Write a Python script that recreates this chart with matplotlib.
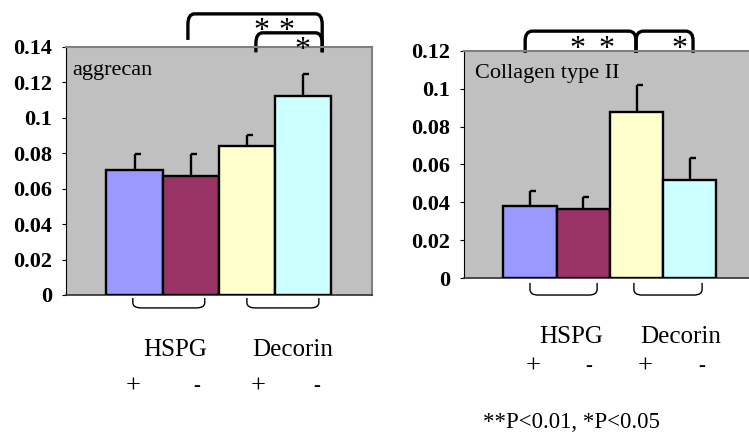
import matplotlib
matplotlib.use("Agg")
import matplotlib.pyplot as plt
from matplotlib.path import Path
from matplotlib.patches import PathPatch
import matplotlib.markers as mmarkers

plt.rcParams['font.family'] = ['Liberation Serif', 'DejaVu Serif']

# ---- data ----
groups = ["HSPG+", "HSPG-", "Decorin+", "Decorin-"]
bar_colors = ["#9999FF", "#993366", "#FFFFCC", "#CCFFFF"]
aggrecan_mean = [0.0706, 0.0672, 0.0841, 0.1124]
aggrecan_err = [0.0090, 0.0124, 0.0062, 0.0124]
collagen_mean = [0.0380, 0.0365, 0.0877, 0.0518]
collagen_err = [0.0080, 0.0065, 0.0143, 0.0116]
agg_ticks = [0, 0.02, 0.04, 0.06, 0.08, 0.1, 0.12, 0.14]
agg_ticklabels = ["0", "0.02", "0.04", "0.06", "0.08", "0.1", "0.12", "0.14"]
col_ticks = [0, 0.02, 0.04, 0.06, 0.08, 0.1, 0.12]
col_ticklabels = ["0", "0.02", "0.04", "0.06", "0.08", "0.1", "0.12"]
signs = ["+", "-", "+", "-"]

W, H = 749, 436
fig = plt.figure(figsize=(W / 100, H / 100), dpi=100)


def axes_px(x0, y0, x1, y1):
    return fig.add_axes([x0 / W, 1 - y1 / H, (x1 - x0) / W, (y1 - y0) / H])


def bracket(ax, x0, x1, ytop, yl, yr, lw, rx, ry):
    s = 1 if yl < ytop else -1
    verts = [(x0, yl), (x0, ytop - s * ry), (x0, ytop), (x0 + rx, ytop),
             (x1 - rx, ytop), (x1, ytop), (x1, ytop - s * ry), (x1, yr)]
    codes = [Path.MOVETO, Path.LINETO, Path.CURVE3, Path.CURVE3,
             Path.LINETO, Path.CURVE3, Path.CURVE3, Path.LINETO]
    ax.add_patch(PathPatch(Path(verts, codes), fill=False, lw=lw,
                           edgecolor='black', clip_on=False, capstyle='butt'))


def star(ax, x, y):
    ax.text(x, y, "*", fontsize=23, ha='center', va='baseline', clip_on=False)


def style_axes(ax, ticks, ticklabels, ymax, xl, xr, show_right=True):
    ax.set_facecolor('#C0C0C0')
    ax.set_ylim(0, ymax)
    ax.set_xlim(xl, xr)
    ax.set_yticks(ticks)
    ax.set_yticklabels(ticklabels, fontsize=16, fontweight='bold')
    ax.set_xticks([])
    ax.tick_params(axis='y', direction='out', length=3, width=0.8, pad=7)
    ax.spines['left'].set_color('black')
    ax.spines['left'].set_linewidth(0.8)
    ax.spines['bottom'].set_color('#303030')
    ax.spines['bottom'].set_linewidth(1.2)
    ax.spines['top'].set_color('#808080')
    ax.spines['top'].set_linewidth(1.5)
    ax.spines['right'].set_color('#808080')
    ax.spines['right'].set_linewidth(1.5)
    ax.spines['right'].set_visible(show_right)


def draw_bars(ax, means, errs):
    x = list(range(len(means)))
    ax.bar(x, means, width=1.0, color=bar_colors, edgecolor='black',
           linewidth=1.7, zorder=3)
    tops = [m + e for m, e in zip(means, errs)]
    ax.vlines(x, means, tops, color='black', lw=1.7, zorder=2)
    ax.plot(x, tops, linestyle='none', marker=mmarkers.TICKRIGHT,
            markersize=4, markeredgewidth=1.7, color='black', zorder=2)


# ---- left panel: aggrecan ----
ax1 = axes_px(66, 47, 372, 295)
style_axes(ax1, agg_ticks, agg_ticklabels, 0.14, -1.219, 4.226)
draw_bars(ax1, aggrecan_mean, aggrecan_err)
ax1.text(0.02, 0.905, "aggrecan", transform=ax1.transAxes, fontsize=16,
         va='center', ha='left')
bracket(ax1, 0.95, 3.34, 0.1587, 0.144, 0.137, 2.4, 0.12, 0.006)
bracket(ax1, 2.16, 3.34, 0.148, 0.137, 0.137, 2.4, 0.12, 0.006)
star(ax1, 2.25, 0.1445)
star(ax1, 2.71, 0.1445)
star(ax1, 2.98, 0.1338)
bracket(ax1, -0.03, 1.25, -0.0073, -0.0017, -0.0017, 1.0, 0.15, 0.003)
bracket(ax1, 2.0, 3.28, -0.0073, -0.0017, -0.0017, 1.0, 0.15, 0.003)
ax1.text(0.72, -0.031, "HSPG", fontsize=18, ha='center', va='center')
ax1.text(2.82, -0.031, "Decorin", fontsize=18, ha='center', va='center')
for xp, s in zip([-0.03, 1.11, 2.2, 3.25], signs):
    ax1.text(xp, -0.0514, s, fontsize=19 if s == "+" else 15,
             ha='center', va='center')

# ---- right panel: collagen type II ----
ax2 = axes_px(464, 51, 749, 278)
style_axes(ax2, col_ticks, col_ticklabels, 0.12, -1.238, 4.11, show_right=False)
draw_bars(ax2, collagen_mean, collagen_err)
ax2.text(0.04, 0.9, "Collagen type II", transform=ax2.transAxes, fontsize=16,
         va='center', ha='left')
bracket(ax2, -0.09, 1.99, 0.1305, 0.119, 0.119, 2.4, 0.14, 0.005)
bracket(ax2, 1.99, 3.06, 0.1305, 0.119, 0.119, 2.4, 0.14, 0.005)
star(ax2, 0.90, 0.1166)
star(ax2, 1.43, 0.1166)
star(ax2, 2.81, 0.1166)
bracket(ax2, 0.0, 1.26, -0.009, -0.0026, -0.0026, 1.0, 0.15, 0.003)
bracket(ax2, 1.95, 3.23, -0.009, -0.0026, -0.0026, 1.0, 0.15, 0.003)
ax2.text(0.77, -0.0312, "HSPG", fontsize=18, ha='center', va='center')
ax2.text(2.83, -0.0312, "Decorin", fontsize=18, ha='center', va='center')
for xp, s in zip([0.06, 1.11, 2.16, 3.23], signs):
    ax2.text(xp, -0.047, s, fontsize=19 if s == "+" else 15,
             ha='center', va='center')

fig.text(571 / W, 1 - 422 / H, "**P<0.01, *P<0.05", fontsize=16.5,
         ha='center', va='center')

fig.savefig("out.png", dpi=100)
